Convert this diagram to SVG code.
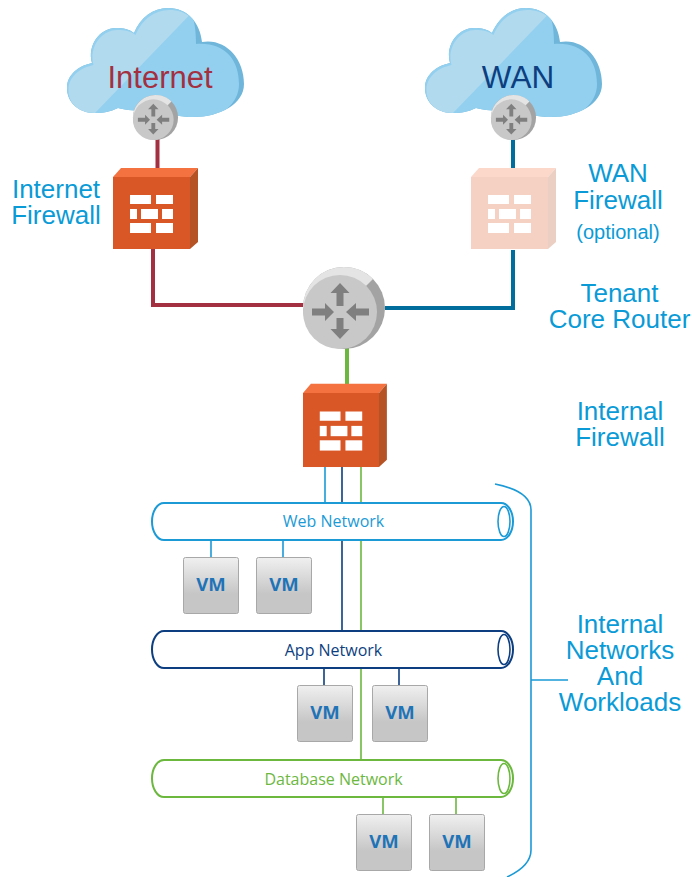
<svg xmlns="http://www.w3.org/2000/svg" width="692" height="877" viewBox="0 0 692 877">
<style>
text{font-family:"Liberation Sans",Arial,sans-serif;text-anchor:middle}
.lab{font-size:26px;fill:#0a9bd7}
.net{font-family:"Open Sans","Noto Sans",sans-serif;font-size:16px}
.vm{font-family:"Open Sans","Noto Sans",sans-serif;font-size:18.500px;font-weight:700;fill:#1f73b7}
.thin{fill:none;stroke-width:1.600}
.thick{fill:none;stroke-width:4}
.cyl{fill:#fff;stroke-width:2}
.brick{fill:#fff}
</style>
<defs>
<linearGradient id="vmg" x1="0" y1="0" x2="0" y2="1"><stop offset="0" stop-color="#f0f0f0"/><stop offset=".65" stop-color="#c6c6c6"/><stop offset="1" stop-color="#c6c6c6"/></linearGradient>
<path id="cp" d="M95 113C78 113 67 102 67 88C67 75 78 66 92 63C87 45 100 28 116 28C123 28 129 29 134 33C141 17 153 8 168 8C188 8 200 23 202 42C225 38 244 58 244 84C244 104 220 117 193 117C180 117 170 115 160 110C140 112 125 110 118 108C110 112 103 113 95 113Z"/>
<clipPath id="cc"><use href="#cp"/></clipPath>
<clipPath id="diag"><path d="M60 120V0H204L95 113L90 120Z"/></clipPath>
<g id="cloud">
<use href="#cp" fill="#6fb6da"/>
<g clip-path="url(#cc)">
<path d="M60 120V0H185C194 14 196 28 196 44C225 42 239 60 239 84C239 104 220 120 193 120Z" fill="#93d0ef"/>
<g clip-path="url(#diag)"><use href="#cp" x="1.500" y="2" fill="#b1daef"/></g>
</g>
</g>
<g id="router">
<circle cx="0" cy="0" r="41" fill="#a3a3a3"/>
<path d="M-41 0A41 41 0 0 1 29 -29L-20 20Z" fill="#e4e4e4"/>
<circle cx="-4" cy="4" r="37" fill="#c8c8c8"/>
<g fill="#7f7f7f">
<path d="M-4 -25L5.500 -15H-0.500V-2H-7.500V-15H-13.500Z"/>
<path d="M-4 31L5.500 21H-0.500V10H-7.500V21H-13.500Z"/>
<path d="M-32 0.500H-19V-5L-10 4L-19 13V7.500H-32Z"/>
<path d="M25 0.500H12V-5L2 4L12 13V7.500H25Z"/>
</g>
</g>
<g id="fw">
<path d="M0 0L8 -9H85L77 0Z" fill="#f37240"/>
<path d="M77 0L85 -9V65L77 72Z" fill="#b65325"/>
<rect x="0" y="0" width="77" height="72" fill="#d95727"/>
<g class="brick">
<rect x="17" y="18" width="21" height="9"/><rect x="43" y="18" width="17" height="9"/>
<rect x="17" y="32" width="7" height="10"/><rect x="28" y="32" width="17" height="10"/><rect x="49" y="32" width="11" height="10"/>
<rect x="17" y="46" width="21" height="10"/><rect x="43" y="46" width="17" height="10"/>
</g>
</g>
<g id="vmbox">
<rect x=".5" y=".5" width="55" height="56" rx="2" fill="url(#vmg)" stroke="#a8a8a8"/>
<text class="vm" x="28" y="34">VM</text>
</g>
</defs>

<g id="connectors">
<path class="thick" stroke="#a33040" d="M157.500 138V168M153 249V305H305"/>
<path class="thick" stroke="#006d9c" d="M513 138V168M513 250V308H385"/>
<path class="thick" stroke="#6cb83f" d="M347 348V385"/>
<path class="thin" stroke="#1b9ad6" d="M325 467V503M211 540V557M283 540V557"/>
<path class="thin" stroke="#0d3f80" d="M342 467V631M324 668V686M399 668V686"/>
<path class="thin" stroke="#6cb83f" d="M361 467V760M383 797V815M456 797V815"/>
</g>

<g id="internet-cloud"><use href="#cloud"/><text x="160" y="88" font-size="31" style="fill:#a33040">Internet</text></g>
<g id="wan-cloud"><use href="#cloud" x="358"/><text x="518" y="88" font-size="31.500" style="fill:#0d3f80">WAN</text></g>
<g id="internet-router"><use href="#router" transform="translate(155.500,117.500) scale(.55)"/></g>
<g id="wan-router"><use href="#router" transform="translate(513.500,117.500) scale(.55)"/></g>
<g id="core-router"><use href="#router" transform="translate(344,308)"/></g>
<g id="internet-firewall"><use href="#fw" x="113" y="177"/></g>
<g id="wan-firewall" opacity=".27"><use href="#fw" x="471" y="177"/></g>
<g id="internal-firewall"><use href="#fw" transform="translate(303,393) scale(.987,1.028)"/></g>

<g id="web-network">
<rect class="cyl" x="152" y="503" width="361" height="37" rx="12" ry="18.500" stroke="#1b9ad6"/>
<ellipse cx="504" cy="521.500" rx="6" ry="15" fill="#fff" stroke="#1b9ad6" stroke-width="1.600"/>
<text class="net" x="333.500" y="527" style="fill:#1b9ad6">Web Network</text>
</g>
<g id="app-network">
<rect class="cyl" x="152" y="631" width="361" height="37" rx="12" ry="18.500" stroke="#0d3f80"/>
<ellipse cx="504" cy="649.500" rx="6" ry="15" fill="#fff" stroke="#0d3f80" stroke-width="1.600"/>
<text class="net" x="333.500" y="656" style="fill:#0d3f80">App Network</text>
</g>
<g id="db-network">
<rect class="cyl" x="152" y="760" width="361" height="37" rx="12" ry="18.500" stroke="#6cb83f"/>
<ellipse cx="504" cy="778.500" rx="6" ry="15" fill="#fff" stroke="#6cb83f" stroke-width="1.600"/>
<text class="net" x="333.500" y="785" style="fill:#6cb83f">Database Network</text>
</g>

<g id="vm1"><use href="#vmbox" x="183" y="557"/></g>
<g id="vm2"><use href="#vmbox" x="256" y="557"/></g>
<g id="vm3"><use href="#vmbox" x="297" y="685"/></g>
<g id="vm4"><use href="#vmbox" x="372" y="685"/></g>
<g id="vm5"><use href="#vmbox" x="356" y="814"/></g>
<g id="vm6"><use href="#vmbox" x="429" y="814"/></g>

<g id="bracket"><path fill="none" stroke="#1b9ad6" stroke-width="1.600" d="M495 484C515 488 531 495 531 510V850C531 862 520 871 507 877M531 680H568"/></g>

<g id="labels">
<text class="lab"><tspan x="56" y="198">Internet</tspan><tspan x="56" y="224">Firewall</tspan></text>
<text class="lab"><tspan x="618" y="182">WAN</tspan><tspan x="618" y="209">Firewall</tspan></text>
<text x="618" y="239" font-size="20" style="fill:#0a9bd7">(optional)</text>
<text class="lab"><tspan x="619.500" y="302">Tenant</tspan><tspan x="619.500" y="328">Core Router</tspan></text>
<text class="lab"><tspan x="620" y="420">Internal</tspan><tspan x="620" y="446">Firewall</tspan></text>
<text class="lab"><tspan x="620" y="633">Internal</tspan><tspan x="620" y="659">Networks</tspan><tspan x="620" y="685">And</tspan><tspan x="620" y="711">Workloads</tspan></text>
</g>
</svg>
